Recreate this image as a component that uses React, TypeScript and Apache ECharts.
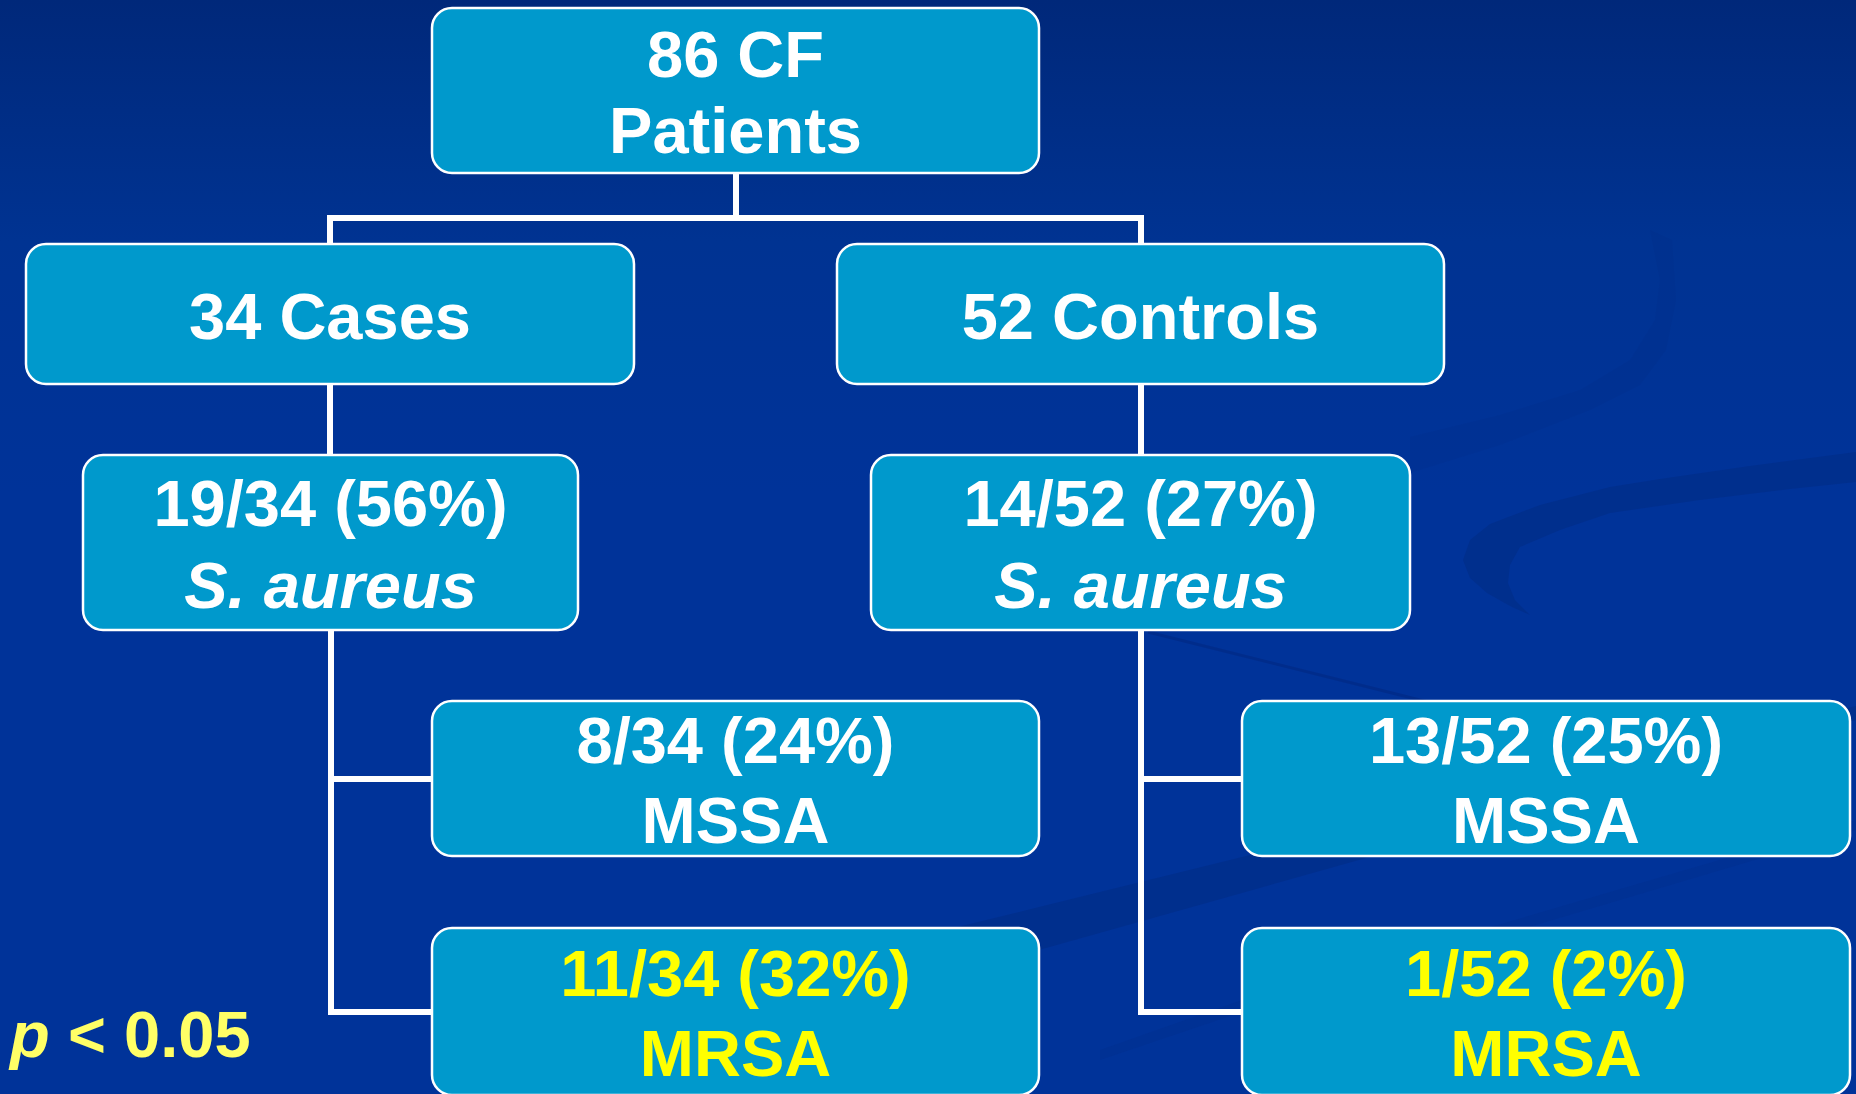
import React, { useEffect, useRef } from "react";
import * as echarts from "echarts";

// ---- Diagram content ----
const nodeLine1 = ["86 CF", "34 Cases", "52 Controls", "19/34 (56%)", "14/52 (27%)", "8/34 (24%)", "11/34 (32%)", "13/52 (25%)", "1/52 (2%)"];
const nodeLine2 = ["Patients", "", "", "S. aureus", "S. aureus", "MSSA", "MRSA", "MSSA", "MRSA"];
const line2Italic = [false, false, false, true, true, false, false, false, false];
const highlighted = [false, false, false, false, false, false, true, false, true];
const parentOf = [-1, 0, 0, 1, 2, 3, 3, 4, 4];
const pLabelItalic = "p";
const pLabelRest = "< 0.05";

// ---- Layout (pixels) ----
const W = 1856;
const H = 1094;
const layout = [
  { x: 432, y: 8, w: 607, h: 165, gap: 76 },
  { x: 26, y: 244, w: 608, h: 140, gap: 0 },
  { x: 837, y: 244, w: 607, h: 140, gap: 0 },
  { x: 83, y: 455, w: 495, h: 175, gap: 82 },
  { x: 871, y: 455, w: 539, h: 175, gap: 82 },
  { x: 432, y: 701, w: 607, h: 155, gap: 80 },
  { x: 432, y: 928, w: 607, h: 167, gap: 80 },
  { x: 1242, y: 701, w: 608, h: 155, gap: 80 },
  { x: 1242, y: 928, w: 608, h: 167, gap: 80 },
];

const FONT = '"Liberation Sans", Arial, Helvetica, sans-serif';
const FS = 65;
const BOX_FILL = "#0099cc";
const WHITE = "#ffffff";
const YELLOW = "#ffff00";
const P_YELLOW = "#ffff66";
const SHADE = "rgba(0,40,120,0.35)";

function buildConnectors(): number[][][] {
  const out: number[][][] = [];
  parentOf.forEach((p, i) => {
    if (p < 0) return;
    const P = layout[p];
    const C = layout[i];
    const pcx = Math.round(P.x + P.w / 2);
    const pb = P.y + P.h;
    const siblings = parentOf.map((q, k) => (q === p ? k : -1)).filter((k) => k >= 0);
    const centers = siblings.map((k) => layout[k].x + layout[k].w / 2);
    const straddle = centers.some((c) => c < pcx - 10) && centers.some((c) => c > pcx + 10);
    const ccx = Math.round(C.x + C.w / 2);
    const ccy = Math.round(C.y + C.h / 2);
    if (!straddle && C.x > pcx) {
      // side branch from the parent's trunk
      out.push([[pcx, pb], [pcx, ccy], [C.x, ccy]]);
    } else if (Math.abs(ccx - pcx) <= 2) {
      out.push([[pcx, pb], [pcx, C.y]]);
    } else {
      const midY = pb + 45;
      out.push([[pcx, pb], [pcx, midY], [ccx, midY], [ccx, C.y]]);
    }
  });
  return out;
}

export default function App() {
  const ref = useRef<HTMLDivElement>(null);
  useEffect(() => {
    if (!ref.current) return;
    const chart = echarts.init(ref.current, undefined, { renderer: "svg" });
    const connectors = buildConnectors();

    const option: any = {
      animation: false,
      backgroundColor: {
        type: "linear",
        x: 0, y: 0, x2: 0, y2: 1,
        colorStops: [
          { offset: 0, color: "#00287a" },
          { offset: 0.22, color: "#003392" },
          { offset: 0.45, color: "#003399" },
          { offset: 1, color: "#003399" },
        ],
      },
      grid: { left: 0, right: 0, top: 0, bottom: 0 },
      xAxis: { type: "value", min: 0, max: W, show: false },
      yAxis: { type: "value", min: 0, max: H, inverse: true, show: false },
      graphic: [
        {
          type: "polygon",
          z: 0,
          silent: true,
          shape: {
            points: [
              [1410, 437], [1500, 415], [1580, 390], [1630, 360], [1655, 320], [1660, 280], [1650, 230],
              [1672, 240], [1676, 300], [1666, 350], [1640, 385], [1590, 410], [1500, 445], [1410, 473],
            ],
          },
          style: { fill: "rgba(0,40,120,0.12)" },
        },
        {
          type: "polygon",
          z: 0,
          silent: true,
          shape: {
            points: [
              [1856, 452], [1750, 466], [1660, 479], [1610, 487], [1540, 505], [1490, 524], [1470, 540],
              [1463, 560], [1470, 578], [1487, 593], [1510, 606], [1530, 615],
              [1515, 600], [1508, 583], [1510, 565], [1520, 547], [1560, 530], [1610, 513], [1700, 500],
              [1790, 489], [1856, 482],
            ],
          },
          style: { fill: SHADE },
        },
        {
          type: "polygon",
          z: 0,
          silent: true,
          shape: {
            points: [
              [700, 990], [1039, 907], [1242, 857], [1856, 706],
              [1856, 720], [1242, 893], [1039, 950], [700, 1045],
            ],
          },
          style: { fill: SHADE },
        },
        {
          type: "polygon",
          z: 0,
          silent: true,
          shape: { points: [[1100, 1050], [1242, 1000], [1856, 820], [1856, 830], [1242, 1012], [1100, 1060]] },
          style: { fill: "rgba(0,40,120,0.15)" },
        },
        {
          type: "line",
          z: 0,
          silent: true,
          shape: { x1: 1148, y1: 632, x2: 1440, y2: 705 },
          style: { stroke: "rgba(0,30,110,0.3)", lineWidth: 3 },
        },
        {
          type: "text",
          z: 5,
          style: {
            text: pLabelItalic,
            x: 10,
            y: 1034,
            fill: P_YELLOW,
            font: `italic bold ${FS}px ${FONT}`,
            align: "left",
            verticalAlign: "middle",
          },
        },
        {
          type: "text",
          z: 5,
          style: {
            text: pLabelRest,
            x: 68,
            y: 1034,
            fill: P_YELLOW,
            font: `bold ${FS}px ${FONT}`,
            align: "left",
            verticalAlign: "middle",
          },
        },
      ],
      series: [
        {
          type: "lines",
          coordinateSystem: "cartesian2d",
          polyline: true,
          silent: true,
          z: 1,
          lineStyle: { color: WHITE, width: 6, opacity: 1, cap: "square", join: "miter" },
          data: connectors.map((c) => ({ coords: c })),
        },
        {
          type: "custom",
          coordinateSystem: "cartesian2d",
          z: 3,
          silent: true,
          data: nodeLine1.map((_, i) => [i, i]),
          renderItem: (params: any, api: any) => {
            const i = params.dataIndex;
            const L = layout[i];
            const p0 = api.coord([L.x, L.y]);
            const p1 = api.coord([L.x + L.w, L.y + L.h]);
            const cx = (p0[0] + p1[0]) / 2;
            const cy = (p0[1] + p1[1]) / 2;
            const color = highlighted[i] ? YELLOW : WHITE;
            const children: any[] = [
              {
                type: "rect",
                shape: { x: p0[0], y: p0[1], width: p1[0] - p0[0], height: p1[1] - p0[1], r: 20 },
                style: { fill: BOX_FILL, stroke: WHITE, lineWidth: 2.5 },
              },
            ];
            if (nodeLine2[i]) {
              const half = L.gap / 2;
              children.push({
                type: "text",
                style: {
                  text: nodeLine1[i],
                  x: cx,
                  y: cy + 2 - half,
                  fill: color,
                  font: `bold ${FS}px ${FONT}`,
                  align: "center",
                  verticalAlign: "middle",
                },
              });
              children.push({
                type: "text",
                style: {
                  text: nodeLine2[i],
                  x: cx,
                  y: cy + 2 + half,
                  fill: color,
                  font: `${line2Italic[i] ? "italic " : ""}bold ${FS}px ${FONT}`,
                  align: "center",
                  verticalAlign: "middle",
                },
              });
            } else {
              children.push({
                type: "text",
                style: {
                  text: nodeLine1[i],
                  x: cx,
                  y: cy + 2,
                  fill: color,
                  font: `bold ${FS}px ${FONT}`,
                  align: "center",
                  verticalAlign: "middle",
                },
              });
            }
            return { type: "group", children };
          },
        },
      ],
    };
    chart.setOption(option);
    return () => chart.dispose();
  }, []);

  return (
    <div
      ref={ref}
      style={{ position: "fixed", left: 0, top: 0, width: W, height: H, overflow: "hidden" }}
    />
  );
}
